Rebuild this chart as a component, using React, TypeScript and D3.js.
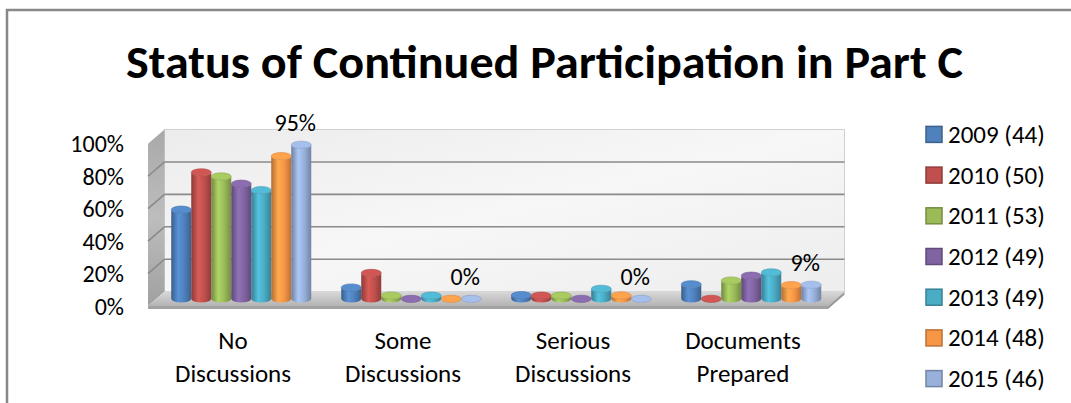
import React from "react";
import * as d3 from "d3";

const categories = ["No Discussions", "Some Discussions", "Serious Discussions", "Documents Prepared"];
const seriesNames = ["2009 (44)", "2010 (50)", "2011 (53)", "2012 (49)", "2013 (49)", "2014 (48)", "2015 (46)"];
const seriesColors = ["#4F81BD", "#C0504D", "#9BBB59", "#8064A2", "#4BACC6", "#F79646", "#98B0DA"];
const s2009 = [0.55, 0.07, 0.023, 0.09];
const s2010 = [0.78, 0.16, 0.02, 0.0];
const s2011 = [0.755, 0.02, 0.02, 0.113];
const s2012 = [0.71, 0.0, 0.0, 0.143];
const s2013 = [0.67, 0.02, 0.062, 0.163];
const s2014 = [0.88, 0.0, 0.021, 0.085];
const s2015 = [0.95, 0.0, 0.0, 0.087];
const seriesValues = [s2009, s2010, s2011, s2012, s2013, s2014, s2015];
const yTicks = [0, 0.2, 0.4, 0.6, 0.8, 1.0];
const labelledSeries = 6; // 2015 shows data labels

const W = 1071, H = 403;
const FONT = "Carlito, Calibri, Lato, sans-serif";

export default function App() {
  const depthX = 16.5, depthY = 14.3;
  const frontX = d3.scaleBand<string>().domain(categories).range([148, 828]);
  const yFront = d3.scaleLinear().domain([0, 1]).range([306, 143.8]);
  const yBack = (v: number) => yFront(v) - depthY;
  const yMid = (v: number) => yFront(v) - depthY / 2;
  const xL = 148, xR = 828;
  const inner = d3.scaleBand<string>().domain(seriesNames).range([0, 140]).padding(0);
  const fmt = d3.format(".0%");
  const rx = 10, ry = 3.6;

  const cyl = (cx: number, v: number) => {
    const b = yMid(0), t = yMid(v);
    return `M${cx - rx},${t} L${cx - rx},${b} A${rx},${ry} 0 0 0 ${cx + rx},${b} L${cx + rx},${t} A${rx},${ry} 0 0 1 ${cx - rx},${t} Z`;
  };

  return (
    <svg width={W} height={H} style={{ position: "absolute", left: 0, top: 0, background: "#fff" }}>
      <defs>
        {seriesColors.map((c, i) => {
          const col = d3.color(c)!;
          return (
            <linearGradient key={i} id={`g${i}`} x1="0" x2="1" y1="0" y2="0">
              <stop offset="0%" stopColor={col.darker(0.9).formatHex()} />
              <stop offset="35%" stopColor={col.brighter(0.35).formatHex()} />
              <stop offset="65%" stopColor={c} />
              <stop offset="100%" stopColor={col.darker(0.8).formatHex()} />
            </linearGradient>
          );
        })}
        <linearGradient id="wallL" x1="0" x2="0" y1="0" y2="1">
          <stop offset="0%" stopColor="#a9a9a9" />
          <stop offset="50%" stopColor="#bdbdbd" />
          <stop offset="100%" stopColor="#a0a0a0" />
        </linearGradient>
        <linearGradient id="wallB" x1="0" x2="1" y1="0" y2="1">
          <stop offset="0%" stopColor="#ececec" />
          <stop offset="50%" stopColor="#f7f7f7" />
          <stop offset="100%" stopColor="#ededed" />
        </linearGradient>
        <linearGradient id="floor" x1="0" x2="0" y1="0" y2="1">
          <stop offset="0%" stopColor="#d8d8d8" />
          <stop offset="100%" stopColor="#b4b4b4" />
        </linearGradient>
      </defs>

      <rect x={7} y={10} width={1200} height={600} fill="none" stroke="#888" strokeWidth={2.5} />

      <text x={544.5} y={78} textAnchor="middle" fontFamily={FONT} fontWeight="bold" fontSize={46}
        textLength={837} lengthAdjust="spacingAndGlyphs" fill="#000">
        Status of Continued Participation in Part C
      </text>

      {/* back wall */}
      <rect x={xL + depthX} y={yBack(1)} width={xR - xL} height={yBack(0) - yBack(1)} fill="url(#wallB)" stroke="#d0d0d0" strokeWidth={1} />
      {/* left wall */}
      <polygon points={`${xL},${yFront(1)} ${xL + depthX},${yBack(1)} ${xL + depthX},${yBack(0)} ${xL},${yFront(0)}`} fill="url(#wallL)" />
      {/* floor */}
      <polygon points={`${xL},${yFront(0)} ${xL + depthX},${yBack(0)} ${xR + depthX},${yBack(0)} ${xR},${yFront(0)}`} fill="url(#floor)" />
      <polygon points={`${xL},${yFront(0)} ${xR},${yFront(0)} ${xR},${yFront(0) + 3} ${xL},${yFront(0) + 3}`} fill="#a2a2a2" />
      <polygon points={`${xR},${yFront(0)} ${xR + depthX},${yBack(0)} ${xR + depthX},${yBack(0) + 3} ${xR},${yFront(0) + 3}`} fill="#9a9a9a" />

      {/* gridlines */}
      {yTicks.filter(v => v > 0 && v < 1).map(v => (
        <g key={v}>
          <line x1={xL + depthX} x2={xR + depthX} y1={yBack(v)} y2={yBack(v)} stroke="#8a8a8a" strokeWidth={1.6} />
          <line x1={xL} x2={xL + depthX} y1={yFront(v)} y2={yBack(v)} stroke="#8a8a8a" strokeWidth={1.6} />
        </g>
      ))}

      {/* y tick labels */}
      {yTicks.map(v => (
        <text key={v} x={124} y={yFront(v)} textAnchor="end" dominantBaseline="central" fontFamily={FONT} fontSize={24} fill="#000">
          {fmt(v)}
        </text>
      ))}

      {/* bars */}
      {categories.map((c, ci) => {
        const gx = frontX(c)! + frontX.bandwidth() / 2 + depthX / 2 - 70;
        return (
          <g key={c}>
            {seriesNames.map((s, si) => {
              const v = seriesValues[si][ci];
              const cx = gx + inner(s)! + inner.bandwidth() / 2;
              const col = d3.color(seriesColors[si])!;
              return (
                <g key={s}>
                  <path d={cyl(cx, v)} fill={`url(#g${si})`} />
                  <ellipse cx={cx} cy={yMid(v)} rx={rx} ry={ry} fill={col.brighter(0.25).formatHex()} stroke={col.darker(0.3).formatHex()} strokeWidth={0.6} />
                </g>
              );
            })}
          </g>
        );
      })}

      {/* data labels for 2015 */}
      {categories.map((c, ci) => {
        const s = seriesNames[labelledSeries];
        const v = seriesValues[labelledSeries][ci];
        const cx = frontX(c)! + frontX.bandwidth() / 2 + depthX / 2 - 70 + inner(s)! + inner.bandwidth() / 2;
        return (
          <text key={c} x={cx - 6} y={yMid(v) - 22} textAnchor="middle" dominantBaseline="central" fontFamily={FONT} fontSize={24} fill="#000">
            {fmt(v)}
          </text>
        );
      })}

      {/* category labels */}
      {categories.map(c => {
        const words = c.split(" ");
        const cx = frontX(c)! + frontX.bandwidth() / 2;
        return (
          <text key={c} x={cx} y={340} textAnchor="middle" dominantBaseline="central" fontFamily={FONT} fontSize={25} fill="#000">
            {words.map((w, i) => (
              <tspan key={i} x={cx} dy={i === 0 ? 0 : 33}>{w}</tspan>
            ))}
          </text>
        );
      })}

      {/* legend */}
      {seriesNames.map((s, i) => {
        const y = 134.4 + i * 40.7;
        const col = d3.color(seriesColors[i])!;
        return (
          <g key={s}>
            <rect x={926} y={y - 8} width={16} height={16} fill={seriesColors[i]} stroke={col.darker(0.8).formatHex()} strokeWidth={1.5} />
            <text x={948} y={y} dominantBaseline="central" fontFamily={FONT} fontSize={25} fill="#000">{s}</text>
          </g>
        );
      })}
    </svg>
  );
}
